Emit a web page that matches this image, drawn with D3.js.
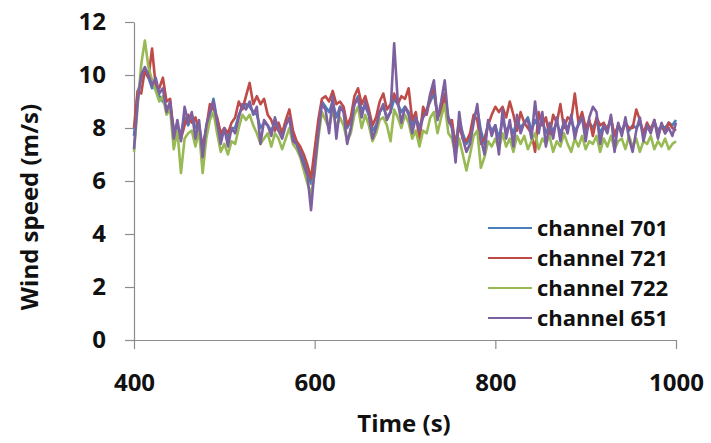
<!DOCTYPE html>
<html><head><meta charset="utf-8">
<script src="https://cdn.jsdelivr.net/npm/d3@7"></script>
<style>
html,body{margin:0;padding:0;background:#fff;}
svg{display:block;}
text{font-family:"Open Sans",sans-serif;font-weight:700;fill:#111;}
</style></head>
<body><svg id="chart" width="711" height="443"></svg>
<script>
// Time axis: samples every 4 s from 400 to 1000 s
const tStart = 400, tStep = 4;
const xTicks = [400, 600, 800, 1000];
const yTicks = [0, 2, 4, 6, 8, 10, 12];
const seriesNames = ["channel 701", "channel 721", "channel 722", "channel 651"];
const seriesColors = ["#4a7ebb", "#be4b48", "#98b954", "#7d60a0"];

const ch701 = [7.7,9.3,9.9,10.1,9.9,9.5,9.6,9.2,9.0,8.8,
8.8,8.0,8.0,7.8,8.4,8.1,8.5,8.0,8.1,7.3,
7.9,8.5,9.1,8.3,7.7,7.9,7.6,8.0,8.0,8.5,
8.8,8.9,8.8,8.6,8.5,8.0,8.2,8.1,7.9,8.2,
7.9,7.8,8.2,8.3,7.7,7.4,7.1,6.8,6.3,5.9,
6.9,8.0,9.0,8.8,8.6,9.0,8.4,8.8,8.7,8.0,
8.3,8.9,9.2,8.7,8.8,8.5,7.9,8.1,8.6,8.8,
8.4,8.6,9.1,8.9,8.6,8.8,8.6,8.1,8.4,8.0,
8.5,8.7,9.0,9.3,8.5,8.7,9.2,8.4,8.1,7.4,
8.3,7.8,7.4,7.6,8.4,8.7,7.9,7.4,8.2,7.9,
8.1,7.6,8.3,7.9,8.1,7.8,8.3,8.0,8.2,8.4,
7.9,8.3,8.0,8.3,7.8,8.1,7.9,8.2,7.8,8.2,
8.0,8.3,7.9,8.1,8.4,7.8,8.2,8.0,8.3,7.8,
8.1,8.0,8.3,7.7,8.1,7.9,8.2,7.9,8.1,8.0,
8.2,7.8,8.1,8.0,8.2,7.9,8.1,8.0,8.2,8.1,8.3];

const ch721 = [8.0,9.4,9.3,10.2,9.9,11.0,9.6,9.5,9.9,9.0,
9.1,7.8,7.7,7.6,8.1,8.5,8.2,8.4,7.9,7.3,
8.0,8.9,8.7,8.4,7.8,8.0,7.8,8.2,8.4,9.0,
8.7,9.2,9.7,8.9,9.2,8.9,9.1,8.5,8.3,7.9,
8.2,7.8,8.3,8.7,7.9,7.5,7.3,7.0,6.6,6.1,
7.2,8.3,9.1,9.2,9.0,9.4,8.9,9.0,8.8,8.1,
8.4,9.2,9.5,8.9,9.2,8.7,8.1,8.4,9.0,9.3,
8.7,8.9,9.3,8.9,9.2,9.1,9.5,8.3,8.6,7.5,
8.8,8.5,9.2,9.5,8.4,8.6,9.3,8.2,8.3,7.2,
8.1,7.6,7.5,7.8,8.5,8.3,7.4,7.6,8.1,8.5,
8.8,8.6,8.8,8.4,9.0,8.5,7.9,8.6,8.2,8.0,
7.8,7.1,8.6,8.1,8.4,7.7,8.5,8.2,8.9,8.0,
8.4,8.3,9.3,8.2,8.6,8.0,8.3,7.7,8.4,8.1,
8.2,7.9,8.4,7.7,8.1,7.8,8.2,8.0,8.0,8.7,
8.3,7.8,8.2,7.9,8.3,7.7,8.1,7.8,8.2,8.0,7.9];

const ch722 = [7.1,8.8,10.4,11.3,10.3,9.8,9.4,9.0,9.2,8.5,
8.7,7.2,7.9,6.3,7.6,7.8,7.9,7.3,7.9,6.3,
7.6,8.3,8.6,7.8,7.1,7.4,7.0,7.5,7.4,8.0,
8.5,8.3,8.5,8.1,7.8,7.4,7.6,7.8,7.3,7.8,
7.6,7.2,7.6,8.0,7.4,7.2,6.9,6.4,5.9,5.5,
6.3,7.6,8.6,8.3,8.0,8.7,8.0,8.4,8.1,7.5,
7.8,8.5,8.8,8.0,8.5,8.1,7.5,7.8,8.3,8.4,
8.1,7.5,8.7,8.4,8.0,8.5,8.2,7.6,7.9,7.3,
7.9,7.8,8.4,8.6,7.8,8.4,8.9,7.8,7.6,7.0,
7.6,7.0,6.4,7.0,7.7,7.9,6.5,6.9,7.5,7.3,
7.6,7.2,7.8,7.3,7.6,7.1,7.7,7.4,7.7,7.2,
7.5,7.8,7.2,7.6,7.4,7.7,7.1,7.5,7.3,7.8,
7.4,7.1,7.6,7.3,7.7,7.2,7.5,7.4,7.7,7.1,
7.6,7.3,7.7,7.2,7.5,7.6,7.2,7.7,7.3,7.6,
7.1,7.5,7.4,7.7,7.2,7.5,7.3,7.6,7.2,7.4,7.5];

const ch651 = [7.2,9.0,10.0,10.3,10.0,9.6,9.9,9.3,9.5,8.6,
9.0,7.6,8.3,7.5,8.8,8.2,8.6,7.6,8.3,6.9,
8.1,8.6,9.0,8.2,7.4,8.0,7.3,8.0,7.8,8.4,
8.9,8.7,9.0,8.5,8.8,7.4,8.3,8.1,7.7,8.4,
7.9,7.6,8.1,8.4,7.5,7.4,7.0,6.6,6.2,4.9,
6.5,7.8,8.9,8.7,7.8,9.2,7.6,8.8,8.6,7.4,
8.0,8.9,9.1,8.4,9.0,8.5,7.6,8.0,8.6,8.9,
8.3,8.6,11.2,9.0,8.2,8.8,8.5,7.8,8.4,7.9,
8.4,8.6,9.3,9.8,8.3,9.0,9.8,8.3,8.0,6.7,
8.6,7.6,7.1,7.4,8.2,8.9,7.6,7.0,8.3,7.7,
8.1,7.0,8.7,7.6,8.3,7.3,8.5,7.8,8.2,8.3,
7.6,9.0,7.8,8.6,7.3,8.2,7.6,8.4,7.5,8.3,
7.8,8.5,7.6,8.2,8.4,7.5,8.4,8.8,8.6,7.4,
8.1,7.8,8.5,7.1,8.2,7.7,8.4,7.6,7.1,7.9,
8.4,7.5,8.1,7.8,8.3,7.6,8.2,7.8,8.0,7.7,8.2];

const allSeries = [ch701, ch721, ch722, ch651];

const svg = d3.select("#chart");
const margin = {left:134, right:35, top:22, bottom:103};
const W = 711, H = 443;
const x = d3.scaleLinear().domain([400, 1000]).range([margin.left, W - margin.right]);
const y = d3.scaleLinear().domain([0, 12]).range([H - margin.bottom, margin.top]);

const axisColor = "#8c8c8c";

const gx = svg.append("g").attr("transform", `translate(0,${y(0)})`)
  .call(d3.axisBottom(x).tickValues(xTicks).tickSize(9).tickSizeOuter(0).tickPadding(25).tickFormat(d3.format("d")));
const gy = svg.append("g").attr("transform", `translate(${x(400)},0)`)
  .call(d3.axisLeft(y).tickValues(yTicks).tickSize(9).tickSizeOuter(0).tickPadding(19).tickFormat(d3.format("d")));
[gx, gy].forEach(g => {
  g.select(".domain").attr("stroke", axisColor).attr("stroke-width", 1.2);
  g.selectAll(".tick line").attr("stroke", axisColor).attr("stroke-width", 1.2);
  g.selectAll(".tick text").attr("font-family", "Open Sans").attr("font-weight", 700)
    .attr("font-size", 24).attr("fill", "#111");
});

const line = d3.line()
  .x((d, i) => x(tStart + i * tStep))
  .y(d => y(d));

svg.append("g").selectAll("path").data(allSeries).join("path")
  .attr("d", d => line(d))
  .attr("fill", "none")
  .attr("stroke", (d, i) => seriesColors[i])
  .attr("stroke-width", 2.6)
  .attr("stroke-linejoin", "round");

// Axis titles
svg.append("text").attr("x", 404).attr("y", 432).attr("text-anchor", "middle")
  .attr("font-size", 24).text("Time (s)");
svg.append("text").attr("transform", "translate(38,207) rotate(-90)").attr("text-anchor", "middle")
  .attr("font-size", 24).text("Wind speed (m/s)");

// Legend
const leg = svg.append("g").selectAll("g").data(seriesNames).join("g")
  .attr("transform", (d, i) => `translate(488,${228 + i * 30})`);
leg.append("line").attr("x1", 0).attr("x2", 44).attr("y1", 0).attr("y2", 0)
  .attr("stroke", (d, i) => seriesColors[i]).attr("stroke-width", 2);
leg.append("text").attr("x", 49).attr("y", 0).attr("dy", "0.35em")
  .attr("font-size", 22).attr("font-weight", 600).text(d => d);
</script></body></html>
